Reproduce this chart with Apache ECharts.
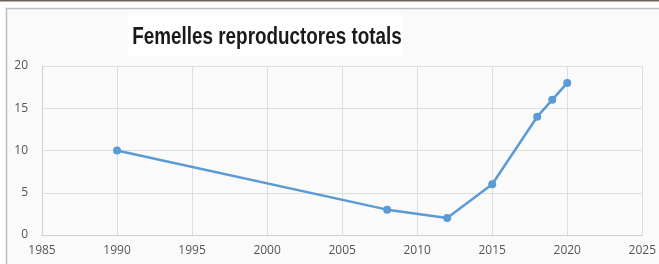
<!DOCTYPE html>
<html>
<head>
<meta charset="utf-8">
<script src="https://cdn.jsdelivr.net/npm/echarts@6/dist/echarts.min.js"></script>
<style>
html,body{margin:0;padding:0;background:#ffffff;}
#c{width:659px;height:264px;}
</style>
</head>
<body>
<div id="c"></div>
<script>
var titleText = 'Femelles reproductores totals';
var years = [1990, 2008, 2012, 2015, 2018, 2019, 2020];
var values = [10, 3, 2, 6, 14, 16, 18];
var xTicks = [1985, 1990, 1995, 2000, 2005, 2010, 2015, 2020, 2025];
var yTicks = [0, 5, 10, 15, 20];

var chart = echarts.init(document.getElementById('c'), null, {renderer: 'canvas'});
var pts = years.map(function (y, i) { return [y, values[i]]; });
chart.setOption({
  animation: false,
  backgroundColor: '#ffffff',
  graphic: [
    {type: 'rect', z: -10, shape: {x: 0, y: 0, width: 659, height: 1.5}, style: {fill: '#6b6058'}},
    {type: 'rect', z: -10, shape: {x: 6.5, y: 8.5, width: 660, height: 270}, style: {fill: '#fafafa', stroke: '#bdbdbd', lineWidth: 1.5}},
    {type: 'rect', z: -9, shape: {x: 128, y: 15, width: 275, height: 41}, style: {fill: '#ffffff'}},
    {type: 'text', z: 10, x: 267, y: 38, scaleX: 0.82, style: {text: titleText, font: 'bold 23px "Liberation Sans", Arial, sans-serif', fill: '#1a1a1a', textAlign: 'center', textVerticalAlign: 'middle'}}
  ],
  grid: {left: 42, right: 16, top: 66, bottom: 29, containLabel: false},
  xAxis: {
    type: 'value', min: 1985, max: 2025, interval: 5,
    axisLine: {show: true, lineStyle: {color: '#d0d0d0', width: 1}},
    axisTick: {show: false},
    splitLine: {show: true, lineStyle: {color: '#dedede', width: 1}},
    axisLabel: {color: '#555555', fontSize: 12, fontFamily: '"Open Sans", sans-serif', margin: 10,
      formatter: function (v) { return xTicks.indexOf(v) >= 0 ? String(v) : ''; }}
  },
  yAxis: {
    type: 'value', min: 0, max: 20, interval: 5,
    axisLine: {show: true, lineStyle: {color: '#d0d0d0', width: 1}},
    axisTick: {show: false},
    splitLine: {show: true, lineStyle: {color: '#dedede', width: 1}},
    axisLabel: {color: '#555555', fontSize: 12, fontFamily: '"Open Sans", sans-serif', margin: 14,
      formatter: function (v) { return yTicks.indexOf(v) >= 0 ? String(v) : ''; }}
  },
  series: [{
    type: 'line', data: pts, symbol: 'circle', symbolSize: 8,
    lineStyle: {color: '#5b9bd5', width: 2.5},
    itemStyle: {color: '#5b9bd5'}
  }]
});
</script>
</body>
</html>
